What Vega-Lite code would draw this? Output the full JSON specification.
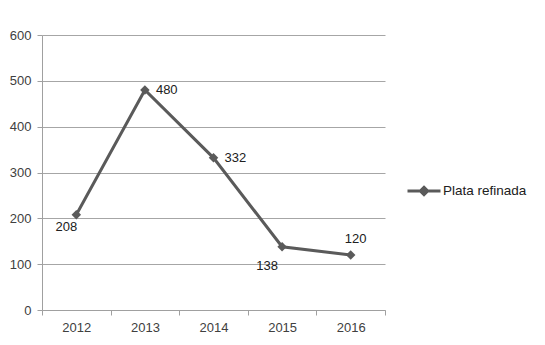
{
  "$schema": "https://vega.github.io/schema/vega-lite/v6.json",
  "autosize": "none",
  "width": 343,
  "height": 275,
  "padding": {"left": 42, "top": 35, "right": 160, "bottom": 35},
  "background": "white",
  "config": {
    "view": {"stroke": null},
    "font": "Liberation Sans",
    "axis": {
      "labelFont": "Liberation Sans",
      "labelFontSize": 13,
      "labelColor": "#404040",
      "domainColor": "#a0a0a0",
      "tickColor": "#a0a0a0",
      "gridColor": "#a6a6a6",
      "tickSize": 5,
      "title": null
    },
    "legend": {
      "labelFont": "Liberation Sans",
      "labelFontSize": 13.5,
      "labelColor": "#202020"
    }
  },
  "data": {
    "values": [
      {"year": "2012", "value": 208},
      {"year": "2013", "value": 480},
      {"year": "2014", "value": 332},
      {"year": "2015", "value": 138},
      {"year": "2016", "value": 120}
    ]
  },
  "encoding": {
    "x": {
      "field": "year",
      "type": "ordinal",
      "scale": {"paddingInner": 0, "paddingOuter": 0},
      "axis": {"labelAngle": 0, "tickBand": "extent", "grid": false, "labelPadding": 6, "domainWidth": 1}
    },
    "y": {
      "field": "value",
      "type": "quantitative",
      "scale": {"domain": [0, 600], "nice": false},
      "axis": {"values": [0, 100, 200, 300, 400, 500, 600], "grid": true, "labelPadding": 6}
    }
  },
  "layer": [
    {
      "mark": {"type": "line", "strokeWidth": 3},
      "encoding": {
        "color": {
          "datum": "Plata refinada",
          "type": "nominal",
          "scale": {"range": ["#5a5a5a"]},
          "legend": {
            "title": null,
            "orient": "none",
            "legendX": 364,
            "legendY": 138,
            "symbolType": "M-1,0L1,0M0,-0.22L0.22,0L0,0.22L-0.22,0Z",
            "symbolSize": 1089,
            "symbolStrokeWidth": 3,
            "symbolFillColor": "#5a5a5a",
            "symbolStrokeColor": "#5a5a5a",
            "labelOffset": 1
          }
        }
      }
    },
    {
      "mark": {"type": "point", "shape": "diamond", "filled": true, "size": 90, "color": "#5a5a5a", "opacity": 1}
    },
    {
      "transform": [{"filter": "datum.year == '2012'"}],
      "mark": {"type": "text", "dx": -10, "dy": 12, "fontSize": 13, "color": "#202020"},
      "encoding": {"text": {"field": "value", "type": "quantitative"}}
    },
    {
      "transform": [{"filter": "datum.year == '2013' || datum.year == '2014'"}],
      "mark": {"type": "text", "align": "left", "dx": 11, "dy": 0, "fontSize": 13, "color": "#202020"},
      "encoding": {"text": {"field": "value", "type": "quantitative"}}
    },
    {
      "transform": [{"filter": "datum.year == '2015'"}],
      "mark": {"type": "text", "dx": -15, "dy": 19, "fontSize": 13, "color": "#202020"},
      "encoding": {"text": {"field": "value", "type": "quantitative"}}
    },
    {
      "transform": [{"filter": "datum.year == '2016'"}],
      "mark": {"type": "text", "dx": 5, "dy": -16, "fontSize": 13, "color": "#202020"},
      "encoding": {"text": {"field": "value", "type": "quantitative"}}
    }
  ]
}
